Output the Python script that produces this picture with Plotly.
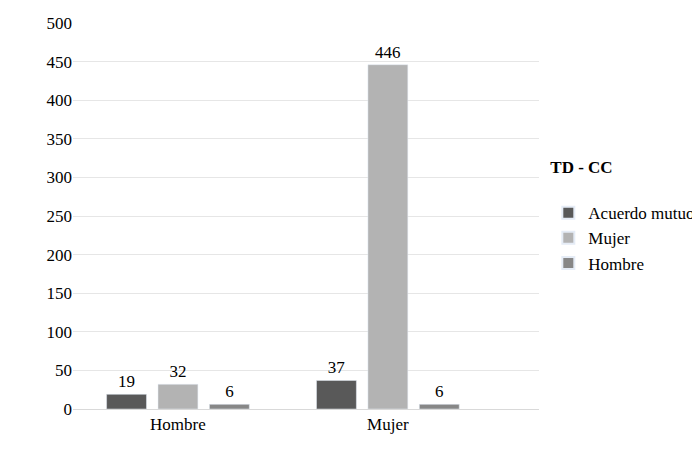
import plotly.graph_objects as go

categories = ["Hombre", "Mujer"]
series_names = ["Acuerdo mutuo", "Mujer", "Hombre"]
acuerdo = [19, 37]
mujer = [32, 446]
hombre = [6, 6]
y_ticks = [0, 50, 100, 150, 200, 250, 300, 350, 400, 450, 500]

colors = ["#595959", "#b3b3b3", "#878787"]
offsets = [-0.34, -0.095, 0.15]
font = "Liberation Serif"

fig = go.Figure()
for name, vals, c, off in zip(series_names, [acuerdo, mujer, hombre], colors, offsets):
    fig.add_trace(go.Bar(x=categories, y=vals, name=name, marker_color=c,
                         width=0.19, offset=off, text=vals, textposition="outside",
                         textfont=dict(size=17, color="#000", family=font), cliponaxis=False))

fig.update_layout(
    width=700, height=465, paper_bgcolor="white", plot_bgcolor="white",
    margin=dict(l=65, r=169, t=15, b=64, autoexpand=False),
    font=dict(family=font, size=17, color="#000"),
    barmode="overlay",
    xaxis=dict(range=[-0.5, 1.72], showline=True, linecolor="#d9d9d9", ticks="",
               tickfont=dict(size=17, family=font)),
    yaxis=dict(range=[0, 500], tickvals=y_ticks, gridcolor="#e6e6e6", zeroline=False,
               tickfont=dict(size=17, family=font), ticksuffix="  "),
    legend=dict(x=1.02, y=0.5, yanchor="middle", xanchor="left",
                title=dict(text="<b>TD - CC</b><br> ", font=dict(size=17, family=font)),
                font=dict(size=17, family=font), tracegroupgap=12, itemsizing="constant"),
    showlegend=True,
)
fig.write_html("out.html")
